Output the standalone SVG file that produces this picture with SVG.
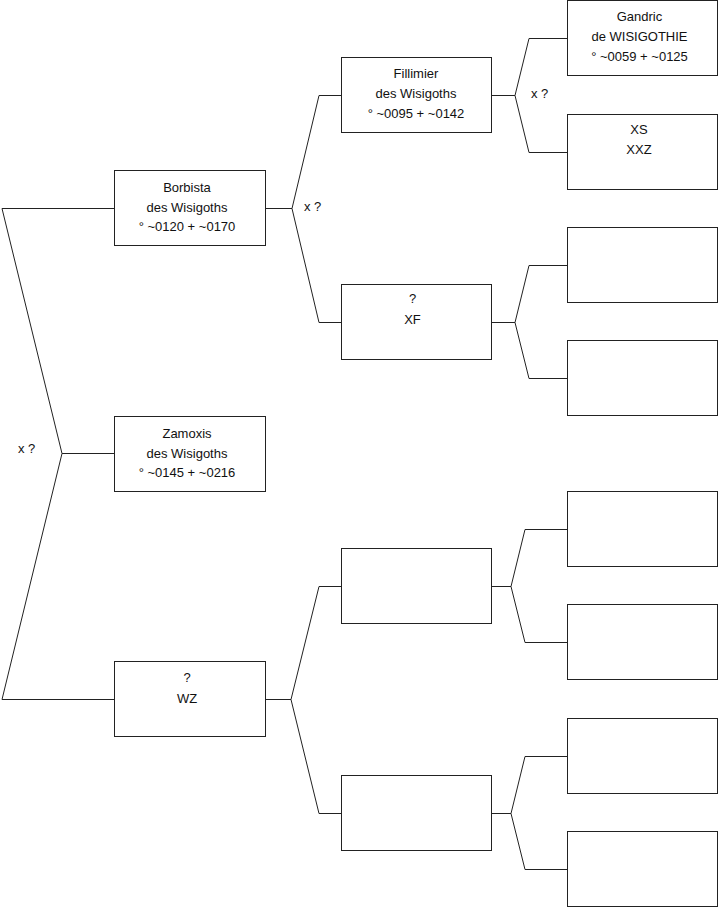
<svg xmlns="http://www.w3.org/2000/svg" width="719" height="908" viewBox="0 0 719 908">
<style>
.box{fill:#fff;stroke:#222;stroke-width:1}
.ln{fill:none;stroke:#222;stroke-width:1}
text{font-family:"Liberation Sans",Arial,sans-serif;font-size:13px;fill:#111}
.c{text-anchor:middle}
</style>
<rect width="719" height="908" fill="#fff"/>
<g id="connectors">
<polyline class="ln" points="114,208.5 2,208.5 62,453.5 2,699.5 114,699.5"/>
<line class="ln" x1="62" y1="453.5" x2="114" y2="453.5"/>
<line class="ln" x1="265" y1="208.5" x2="292" y2="208.5"/>
<polyline class="ln" points="341,95.5 319,95.5 292,208.5 319,322.5 341,322.5"/>
<line class="ln" x1="265" y1="699.5" x2="291" y2="699.5"/>
<polyline class="ln" points="341,586.5 319,586.5 291,699.5 319,813.5 341,813.5"/>
<line class="ln" x1="492" y1="95.5" x2="515" y2="95.5"/>
<polyline class="ln" points="567,38.5 529,38.5 515,95.5 529,152.5 567,152.5"/>
<line class="ln" x1="492" y1="322.5" x2="515" y2="322.5"/>
<polyline class="ln" points="567,265.5 529,265.5 515,322.5 529,378.5 567,378.5"/>
<line class="ln" x1="492" y1="586.5" x2="511" y2="586.5"/>
<polyline class="ln" points="567,529.5 525,529.5 511,586.5 525,642.5 567,642.5"/>
<line class="ln" x1="492" y1="813.5" x2="511" y2="813.5"/>
<polyline class="ln" points="567,756.5 525,756.5 511,813.5 525,869.5 567,869.5"/>
<text x="18" y="453">x ?</text>
<text x="304" y="211">x ?</text>
<text x="531" y="98">x ?</text>
</g>
<g id="borbista">
<rect class="box" x="114.5" y="170.5" width="151" height="75"/>
<text class="c" x="187" y="191.5">Borbista</text>
<text class="c" x="187" y="211.5">des Wisigoths</text>
<text class="c" x="187" y="230.5">° ~0120 + ~0170</text>
</g>
<g id="zamoxis">
<rect class="box" x="114.5" y="416.5" width="151" height="75"/>
<text class="c" x="187" y="437.5">Zamoxis</text>
<text class="c" x="187" y="457.5">des Wisigoths</text>
<text class="c" x="187" y="477">° ~0145 + ~0216</text>
</g>
<g id="wz">
<rect class="box" x="114.5" y="661.5" width="151" height="75"/>
<text class="c" x="187" y="682">?</text>
<text class="c" x="187" y="702.5">WZ</text>
</g>
<g id="fillimier">
<rect class="box" x="341.5" y="57.5" width="150" height="75"/>
<text class="c" x="416" y="78">Fillimier</text>
<text class="c" x="416" y="98">des Wisigoths</text>
<text class="c" x="416" y="117.5">° ~0095 + ~0142</text>
</g>
<g id="xf">
<rect class="box" x="341.5" y="284.5" width="150" height="75"/>
<text class="c" x="412.5" y="303">?</text>
<text class="c" x="412.5" y="324">XF</text>
</g>
<g id="p2c">
<rect class="box" x="341.5" y="548.5" width="150" height="75"/>
</g>
<g id="p2d">
<rect class="box" x="341.5" y="775.5" width="150" height="75"/>
</g>
<g id="gandric">
<rect class="box" x="567.5" y="0.5" width="150" height="75"/>
<text class="c" x="639.5" y="20.5">Gandric</text>
<text class="c" x="639.5" y="41">de WISIGOTHIE</text>
<text class="c" x="639.5" y="61">° ~0059 + ~0125</text>
</g>
<g id="xs">
<rect class="box" x="567.5" y="114.5" width="150" height="75"/>
<text class="c" x="639" y="134">XS</text>
<text class="c" x="639" y="153.5">XXZ</text>
</g>
<g id="p3c"><rect class="box" x="567.5" y="227.5" width="150" height="75"/></g>
<g id="p3d"><rect class="box" x="567.5" y="340.5" width="150" height="75"/></g>
<g id="p3e"><rect class="box" x="567.5" y="491.5" width="150" height="75"/></g>
<g id="p3f"><rect class="box" x="567.5" y="604.5" width="150" height="75"/></g>
<g id="p3g"><rect class="box" x="567.5" y="718.5" width="150" height="75"/></g>
<g id="p3h"><rect class="box" x="567.5" y="831.5" width="150" height="75"/></g>
</svg>
